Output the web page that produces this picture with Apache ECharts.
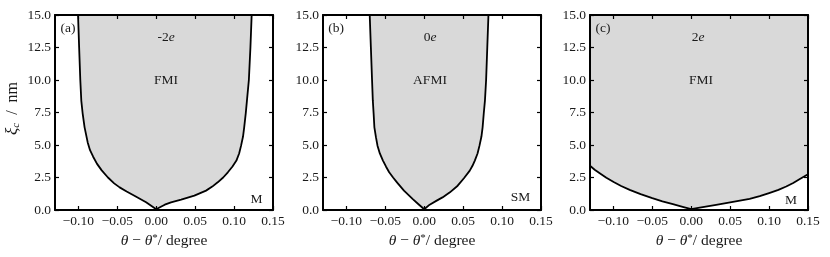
<!DOCTYPE html>
<html><head><meta charset="utf-8">
<script src="https://cdn.jsdelivr.net/npm/echarts@6/dist/echarts.min.js"></script>
<style>html,body{margin:0;padding:0;background:#fff}#c{width:830px;height:257px}</style>
</head><body><div id="c"></div>
<script>
// ---- data ----
const xTickValues = [-0.10, -0.05, 0.00, 0.05, 0.10, 0.15];
const yTickValues = [0, 2.5, 5, 7.5, 10, 12.5, 15];
const panelLetters = ['(a)', '(b)', '(c)'];
const chargeLabels = ['-2', '0', '2'];
const phaseLabels = ['FMI', 'AFMI', 'FMI'];
const outsideLabels = ['M', 'SM', 'M'];

// phase boundary xi_c(theta - theta*) for each doping
const boundaryA = [
  [-0.1004, 15.0], [-0.0990, 12.5], [-0.0975, 10.0], [-0.0962, 8.4], [-0.0945, 7.44],
  [-0.0920, 6.36], [-0.0880, 5.2], [-0.0850, 4.6], [-0.0810, 4.1], [-0.0760, 3.55],
  [-0.0700, 3.05], [-0.0620, 2.50], [-0.0540, 2.05], [-0.0470, 1.74], [-0.0380, 1.42],
  [-0.0280, 1.10], [-0.0130, 0.59], [0.0000, 0.06],
  [0.0060, 0.25], [0.0110, 0.41], [0.0190, 0.59], [0.0320, 0.80], [0.0490, 1.10], [0.0640, 1.49],
  [0.0720, 1.80], [0.0790, 2.13], [0.0860, 2.50], [0.0920, 2.90], [0.0980, 3.35], [0.1030, 3.80],
  [0.1065, 4.35], [0.1090, 4.95], [0.1115, 5.65], [0.1130, 6.36],
  [0.1150, 7.44], [0.1165, 8.40], [0.1190, 10.0], [0.1210, 12.5], [0.1226, 15.0]
];
const boundaryB = [
  [-0.0700, 15.0], [-0.0685, 12.5], [-0.0670, 10.0], [-0.0660, 8.41], [-0.0650, 7.44],
  [-0.0640, 6.36], [-0.0620, 5.6], [-0.0600, 4.95], [-0.0570, 4.35], [-0.0530, 3.80],
  [-0.0490, 3.33], [-0.0450, 2.90], [-0.0400, 2.50], [-0.0350, 2.13],
  [-0.0260, 1.49], [-0.0150, 0.85], [-0.0070, 0.42], [0.0000, 0.06],
  [0.0070, 0.41], [0.0160, 0.72], [0.0235, 0.97], [0.0330, 1.36], [0.0430, 1.87],
  [0.0510, 2.44], [0.0585, 3.03], [0.0620, 3.40], [0.0650, 3.80], [0.0685, 4.35], [0.0710, 4.95],
  [0.0735, 5.65], [0.0750, 6.36],
  [0.0765, 7.44], [0.0780, 8.41], [0.0795, 10.0], [0.0810, 12.5], [0.0825, 15.0]
];
const boundaryC = [
  [-0.1300, 3.40], [-0.1240, 3.10], [-0.1175, 2.83], [-0.1090, 2.48], [-0.0996, 2.15],
  [-0.0900, 1.85], [-0.0790, 1.55], [-0.0650, 1.22], [-0.0500, 0.91], [-0.0370, 0.67],
  [-0.0235, 0.45], [-0.0110, 0.24], [0.0000, 0.06], [0.0110, 0.19], [0.0320, 0.40], [0.0500, 0.58],
  [0.0750, 0.86], [0.0880, 1.06], [0.1000, 1.30], [0.1120, 1.55], [0.1220, 1.81],
  [0.1310, 2.08], [0.1390, 2.37], [0.1500, 2.75]
];
const boundaries = [boundaryA, boundaryB, boundaryC];

// ---- layout / style ----
const FONT = '"Liberation Serif", "Times New Roman", serif';
const TXT = '#1a1a1a';
const gridLefts = [55, 323, 590];
const GT = 15, GW = 218, GH = 195;

const grids = [], xAxes = [], yAxes = [], series = [], graphics = [];
const fmtX = v => (v < 0 ? '\u2212' : '') + Math.abs(v).toFixed(2);
const fmtY = v => v.toFixed(1);
const lineStyleAxis = { color: '#000', width: 2 };
const tickStyle = { color: '#000', width: 1.2 };

gridLefts.forEach((L, i) => {
  grids.push({ left: L, top: GT, width: GW, height: GH });
  xAxes.push({
    gridIndex: i, type: 'value', min: -0.13, max: 0.15, position: 'bottom', z: 10,
    axisLine: { show: true, onZero: false, lineStyle: lineStyleAxis },
    axisTick: { show: true, inside: true, length: 4, customValues: xTickValues, lineStyle: tickStyle },
    axisLabel: { show: true, customValues: xTickValues, formatter: fmtX, fontFamily: FONT, fontSize: 13.5, color: TXT, margin: 4 },
    splitLine: { show: false },
    name: '{i|θ} \u2212 {i|θ}{sup|*}/ degree', nameLocation: 'middle', nameGap: 22,
    nameTextStyle: {
      fontFamily: FONT, fontSize: 15.5, color: TXT,
      rich: {
        i: { fontFamily: FONT, fontSize: 15.5, fontStyle: 'italic', color: TXT },
        sup: { fontFamily: FONT, fontSize: 11, color: TXT, verticalAlign: 'top', lineHeight: 10 }
      }
    }
  });
  xAxes.push({
    gridIndex: i, type: 'value', min: -0.13, max: 0.15, position: 'top', z: 10,
    axisLine: { show: true, onZero: false, lineStyle: lineStyleAxis },
    axisTick: { show: true, inside: true, length: 4, customValues: xTickValues, lineStyle: tickStyle },
    axisLabel: { show: false }, splitLine: { show: false }
  });
  const yLeft = {
    gridIndex: i, type: 'value', min: 0, max: 15, interval: 2.5, position: 'left', z: 10,
    axisLine: { show: true, onZero: false, lineStyle: lineStyleAxis },
    axisTick: { show: true, inside: true, length: 4, lineStyle: tickStyle },
    axisLabel: { show: true, formatter: fmtY, fontFamily: FONT, fontSize: 13.5, color: TXT, margin: 4 },
    splitLine: { show: false }
  };
  if (i === 0) {
    Object.assign(yLeft, {
      name: '{i|ξ}{sub|c}  /  nm', nameLocation: 'middle', nameGap: 33, nameRotate: 90,
      nameTextStyle: {
        fontFamily: FONT, fontSize: 16, color: TXT, padding: [0, 0, 0, 8],
        rich: {
          i: { fontFamily: FONT, fontSize: 17, fontStyle: 'italic', color: TXT, lineHeight: 19 },
          sub: { fontFamily: FONT, fontSize: 11, fontStyle: 'italic', color: TXT, verticalAlign: 'bottom', lineHeight: 7 }
        }
      }
    });
  }
  yAxes.push(yLeft);
  yAxes.push({
    gridIndex: i, type: 'value', min: 0, max: 15, interval: 2.5, position: 'right', z: 10,
    axisLine: { show: true, onZero: false, lineStyle: lineStyleAxis },
    axisTick: { show: true, inside: true, length: 4, lineStyle: tickStyle },
    axisLabel: { show: false }, splitLine: { show: false }
  });

  series.push({
    type: 'line', xAxisIndex: 2 * i, yAxisIndex: 2 * i, data: boundaries[i],
    symbol: 'none', smooth: false, clip: true, z: 2,
    lineStyle: { color: '#000', width: 1.8, join: 'round' },
    areaStyle: { color: '#d9d9d9', opacity: 1, origin: 'end' },
    silent: true, animation: false
  });
});

const annPos = [
  { letter: [68, 28], charge: [166, 37.5], phase: [166, 80], out: [256.5, 199] },
  { letter: [336, 28], charge: [430, 37.5], phase: [430, 80], out: [520.5, 197] },
  { letter: [603, 28], charge: [698, 37.5], phase: [701, 80], out: [791, 200] }
];
annPos.forEach((p, i) => {
  const base = { fontFamily: FONT, fontSize: 13.5, fill: TXT, textAlign: 'center', textVerticalAlign: 'middle' };
  graphics.push({ type: 'text', x: p.letter[0], y: p.letter[1], z: 20, style: Object.assign({ text: panelLetters[i] }, base) });
  graphics.push({ type: 'text', x: p.charge[0], y: p.charge[1], z: 20, style: Object.assign({
    text: chargeLabels[i] + '{i|e}',
    rich: { i: { fontFamily: FONT, fontSize: 13.5, fontStyle: 'italic', fill: TXT } }
  }, base) });
  graphics.push({ type: 'text', x: p.phase[0], y: p.phase[1], z: 20, style: Object.assign({ text: phaseLabels[i] }, base) });
  graphics.push({ type: 'text', x: p.out[0], y: p.out[1], z: 20, style: Object.assign({ text: outsideLabels[i] }, base) });
});

const chart = echarts.init(document.getElementById('c'), null, { renderer: 'canvas' });
chart.setOption({
  animation: false,
  backgroundColor: '#fff',
  grid: grids, xAxis: xAxes, yAxis: yAxes, series: series,
  graphic: graphics
});
</script></body></html>
